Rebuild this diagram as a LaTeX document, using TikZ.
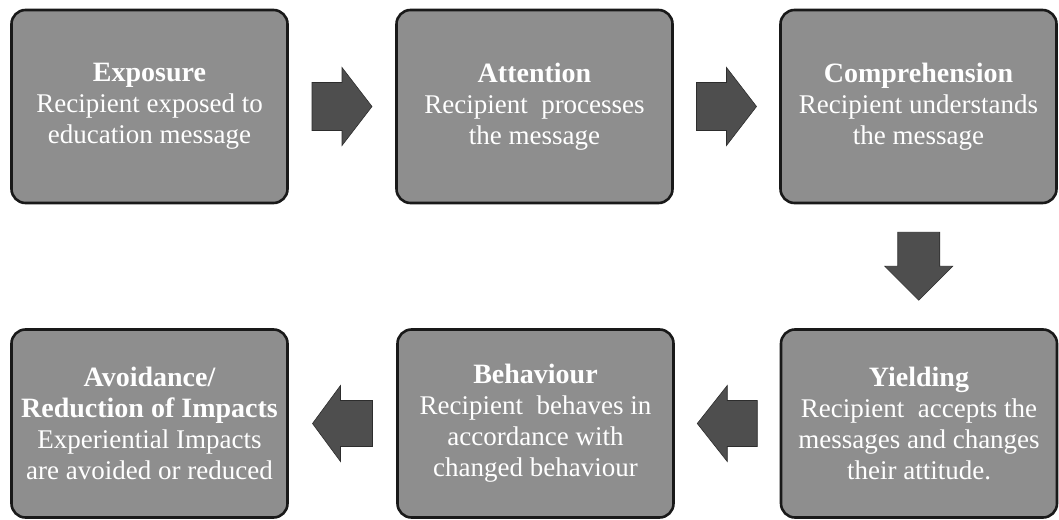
\documentclass[tikz,border=0pt]{standalone}
\usepackage{fontspec}
\setmainfont{Liberation Serif}
\usetikzlibrary{calc}
\definecolor{boxfill}{RGB}{142,142,142}
\definecolor{boxedge}{RGB}{25,25,25}
\definecolor{arrowfill}{RGB}{78,78,78}
\definecolor{arrowedge}{RGB}{45,45,45}
\tikzset{
  stage/.style={rectangle, rounded corners=14pt, fill=boxfill, draw=boxedge,
    line width=2.6pt, text=white, align=center, inner sep=0pt,
    minimum width=276pt, font=\fontsize{27}{31}\selectfont},
  toprow/.style={stage, minimum height=193pt},
  botrow/.style={stage, minimum height=188pt},
  pics/blockarrow/.style n args={4}{code={%
    \filldraw[fill=arrowfill, draw=arrowedge, line width=0.6pt]
      (-#1/2,-#3) -- (#1/2-#2,-#3) -- (#1/2-#2,-#4) -- (#1/2,0)
      -- (#1/2-#2,#4) -- (#1/2-#2,#3) -- (-#1/2,#3) -- cycle;
  }}
}
\newcommand{\ttl}[1]{{\fontsize{28}{31}\selectfont\bfseries #1}}
\begin{document}
\begin{tikzpicture}[x=1pt,y=-1pt]
\useasboundingbox[fill=white] (0,0) rectangle (1059,519);
\node[toprow] (b1) at (149.5,106.5) {\ttl{Exposure}\\Recipient exposed to\\education message};
\node[toprow] (b2) at (534.5,106.5) {\ttl{Attention}\\Recipient\ \ processes\\the message};
\node[toprow] (b3) at (918.5,106.5) {\ttl{Comprehension}\\Recipient understands\\the message};
\node[botrow] (b6) at (919,423.5) {\ttl{Yielding}\\Recipient\ \ accepts the\\messages and changes\\their attitude.};
\node[botrow] (b5) at (535.5,423.5) {\ttl{Behaviour}\\Recipient\ \ behaves in\\accordance with\\changed behaviour};
\node[botrow] (b4) at (149.5,423.5) {\ttl{Avoidance/}\\\ttl{Reduction of Impacts}\\Experiential Impacts\\are avoided or reduced};
\pic at ($(b1.east)!0.5!(b2.west)$) {blockarrow={60}{30}{24}{39}};
\pic at ($(b2.east)!0.5!(b3.west)$) {blockarrow={60}{30}{24}{39}};
\pic[rotate=-90] at ($(b3.south)!0.5!(b6.north)$) {blockarrow={68}{34}{21}{34}};
\pic[rotate=180] at ($(b6.west)!0.5!(b5.east)$) {blockarrow={60}{30}{23}{38}};
\pic[rotate=180] at ($(b5.west)!0.5!(b4.east)$) {blockarrow={60}{28}{23}{38}};
\end{tikzpicture}
\end{document}
